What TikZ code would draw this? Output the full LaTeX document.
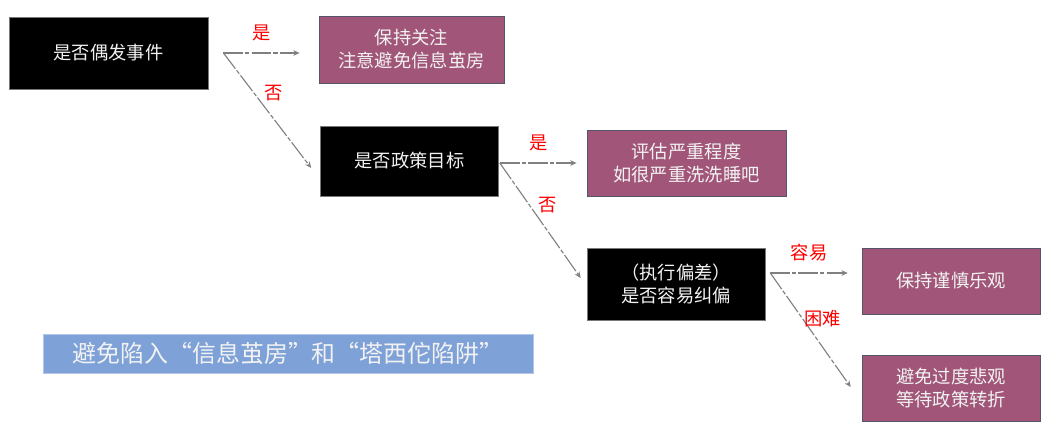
\documentclass[tikz,border=0pt]{standalone}
\usepackage{fontspec}
\setmainfont{Noto Sans CJK SC}
\usetikzlibrary{arrows.meta,calc}
\definecolor{boxgray}{RGB}{120,120,120}
\definecolor{plum}{RGB}{161,86,121}
\definecolor{plumline}{RGB}{85,85,105}
\definecolor{skyblue}{RGB}{126,161,216}
\definecolor{linegray}{RGB}{128,128,128}
\definecolor{offwhite}{RGB}{242,242,242}
\tikzset{
  ask/.style={draw=boxgray, fill=black, text=offwhite, align=center,
              inner sep=2pt, font=\fontsize{13}{16.5}\selectfont},
  advice/.style={ask, draw=plumline, fill=plum},
  banner/.style={draw=skyblue!60!white, fill=skyblue, text=offwhite,
                 minimum width=12.25cm, minimum height=0.975cm,
                 font=\fontsize{17}{20}\selectfont},
  arrow/.style={-{Stealth[length=4.5pt,width=4pt]}, draw=linegray,
                line width=0.8pt,
                dash pattern=on 14pt off 1.5pt on 3pt off 1.5pt},
  answer/.style={text=red, font=\fontsize{13}{15}\selectfont, inner sep=1pt}
}

\begin{document}
\begin{tikzpicture}[x=0.025cm, y=-0.025cm]
  \useasboundingbox (0,0) rectangle (1056,439);
  % questions
  \node[ask, minimum width=4.98cm, minimum height=1.8cm] (q1) at (108.5,53) {是否偶发事件};
  \node[ask, minimum width=4.45cm, minimum height=1.75cm] (q2) at (409.5,161) {是否政策目标};
  \node[ask, minimum width=4.45cm, minimum height=1.8cm] (q3) at (676,284) {（执行偏差）\\是否容易纠偏};
  % outcomes
  \node[advice, minimum width=4.63cm, minimum height=1.68cm] (r1) at (411.5,49.5) {保持关注\\注意避免信息茧房};
  \node[advice, minimum width=4.98cm, minimum height=1.65cm] (r2) at (686.5,163) {评估严重程度\\如很严重洗洗睡吧};
  \node[advice, minimum width=4.45cm, minimum height=1.65cm] (r3) at (951,281) {保持谨慎乐观};
  \node[advice, minimum width=4.45cm, minimum height=1.65cm] (r4) at (951,388) {避免过度悲观\\等待政策转折};
  \node[banner] (motto) at (288,353.5) {避免陷入“信息茧房”和“塔西佗陷阱”};

  % branch points
  \coordinate (q1out) at ($(q1.east)+(15,0)$);
  \coordinate (q2out) at ($(q2.east)+(1,2)$);
  \coordinate (q3out) at ($(q3.east)+(5,-11)$);
  \coordinate (r1in) at ($(q1out -| r1.west)+(-19,0)$);
  \coordinate (r2in) at ($(q2out -| r2.west)+(-10,0)$);
  \coordinate (r3in) at ($(q3out -| r3.west)+(-14,0)$);
  \coordinate (q2in) at ($(q2.west)+(-9,7)$);
  \coordinate (q3in) at ($(q3.west)+(-6,-6)$);
  \coordinate (r4in) at ($(r4.west)+(-11,-1)$);

  \draw[arrow] (q1out) -- (r1in) node[answer, midway, above=7pt] {是};
  \draw[arrow] (q1out) -- (q2in) node[answer, pos=0.35, right=6pt] {否};
  \draw[arrow] (q2out) -- (r2in) node[answer, midway, above=7pt] {是};
  \draw[arrow] (q2out) -- (q3in) node[answer, pos=0.37, right=5pt] {否};
  \draw[arrow] (q3out) -- (r3in) node[answer, midway, above=7pt] {容易};
  \draw[arrow] (q3out) -- (r4in) node[answer, pos=0.4, right=0pt] {困难};
\end{tikzpicture}
\end{document}
